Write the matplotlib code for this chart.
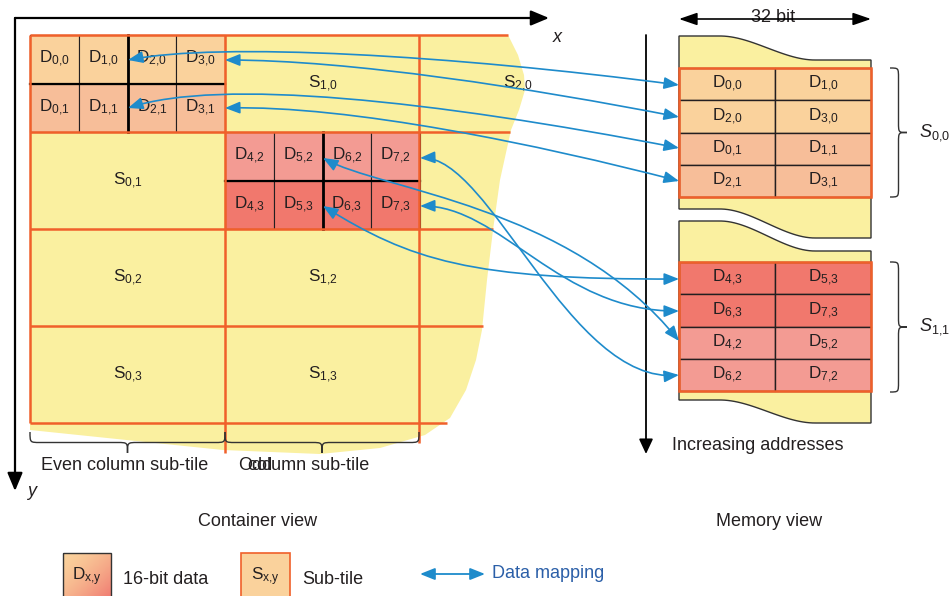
import numpy as np
import matplotlib.pyplot as plt
from matplotlib.patches import Rectangle, Polygon, FancyArrowPatch, PathPatch
from matplotlib.path import Path

plt.rcParams["font.family"] = ["Liberation Sans", "DejaVu Sans"]
plt.rcParams["mathtext.fontset"] = "custom"
plt.rcParams["mathtext.rm"] = "Liberation Sans"
plt.rcParams["mathtext.it"] = "Liberation Sans:italic"
plt.rcParams["mathtext.default"] = "rm"

# ---- labels / content ----
tile_s00 = [["0,0", "1,0", "2,0", "3,0"], ["0,1", "1,1", "2,1", "3,1"]]
tile_s11 = [["4,2", "5,2", "6,2", "7,2"], ["4,3", "5,3", "6,3", "7,3"]]
other_tiles = [(1, 0), (2, 0), (0, 1), (0, 2), (1, 2), (0, 3), (1, 3)]
mem_s00 = [["0,0", "1,0"], ["2,0", "3,0"], ["0,1", "1,1"], ["2,1", "3,1"]]
mem_s11 = [["4,3", "5,3"], ["6,3", "7,3"], ["4,2", "5,2"], ["6,2", "7,2"]]

# colours
yellow = "#FAF0A0"
orange_lt = "#FAD29C"
salmon = "#F7BE99"
pink = "#F39B93"
red = "#F1786D"
grid_c = "#F0602A"
blue = "#1E8BCB"
ink = "#231F20"

# ---- layout (pixel space of the 950x596 picture) ----
col_x = [30, 225, 419]
row_y = [35, 132, 229, 326, 423]
row_end = [508, 510, 493, 483, 447]
col_end = [423, 453, 443]

yel_x = [30, 508, 518, 524, 525, 519, 511, 500, 493, 487, 482, 476, 466, 450, 425, 380, 320, 223, 30]
yel_y = [35, 35, 55, 75, 90, 110, 130, 180, 230, 280, 330, 360, 390, 418, 435, 448, 454, 450, 430]

mem_x = [679, 775, 871]
mem_top = [68, 262]
mem_h = 32.3

# bezier curves: container end, ctrl1, ctrl2, memory end
curves = [
    ((128, 60), (220, 42), (450, 55), (679, 85)),
    ((225, 60), (350, 60), (530, 88), (679, 117)),
    ((128, 108), (220, 78), (430, 100), (679, 148)),
    ((225, 108), (350, 105), (540, 145), (679, 181)),
    ((420, 158), (490, 155), (570, 385), (679, 375)),
    ((420, 206), (500, 205), (560, 312), (679, 311)),
    ((323, 158), (380, 190), (570, 205), (679, 341)),
    ((323, 206), (410, 260), (470, 280), (679, 279)),
]

fig = plt.figure(figsize=(9.5, 5.96), dpi=100)
ax = fig.add_axes([0, 0, 1, 1])
ax.set_xlim(0, 950)
ax.set_ylim(596, 0)
ax.axis("off")

fs = 12.3
fs_big = 13


def sub(base, s):
    return f"{base}$_{{{s.replace(',', '{,}')}}}$"


def lab(x, y, s, **kw):
    kw.setdefault("fontsize", fs)
    kw.setdefault("color", ink)
    kw.setdefault("ha", "center")
    kw.setdefault("va", "center")
    return ax.text(x, y, s, zorder=6, **kw)


def arrow(p0, p1, hl=9, hw=3.6, style="-|>", color="black", lw=1.5):
    a = FancyArrowPatch(p0, p1, arrowstyle=f"{style},head_length={hl},head_width={hw}",
                        color=color, lw=lw, shrinkA=0, shrinkB=0, mutation_scale=1, zorder=7)
    ax.add_patch(a)


def brace(p0, p1, depth, horizontal=True, r=10):
    # curly brace from p0 to p1, tip pushed by depth
    if horizontal:
        (x0, y0), (x1, _) = p0, p1
        xm, h = (x0 + x1) / 2, depth / 2
        v = [(x0, y0), (x0, y0 + h), (x0, y0 + h), (x0 + r, y0 + h), (xm - r, y0 + h),
             (xm, y0 + h), (xm, y0 + h), (xm, y0 + depth),
             (xm, y0 + h), (xm, y0 + h), (xm + r, y0 + h), (x1 - r, y0 + h),
             (x1, y0 + h), (x1, y0 + h), (x1, y0)]
    else:
        (x0, y0), (_, y1) = p0, p1
        ym, h = (y0 + y1) / 2, depth / 2
        v = [(x0, y0), (x0 + h, y0), (x0 + h, y0), (x0 + h, y0 + r), (x0 + h, ym - r),
             (x0 + h, ym), (x0 + h, ym), (x0 + depth, ym),
             (x0 + h, ym), (x0 + h, ym), (x0 + h, ym + r), (x0 + h, y1 - r),
             (x0 + h, y1), (x0 + h, y1), (x0, y1)]
    c = [Path.MOVETO, Path.CURVE4, Path.CURVE4, Path.CURVE4, Path.LINETO,
         Path.CURVE4, Path.CURVE4, Path.CURVE4,
         Path.CURVE4, Path.CURVE4, Path.CURVE4, Path.LINETO,
         Path.CURVE4, Path.CURVE4, Path.CURVE4]
    ax.add_patch(PathPatch(Path(v, c), fc="none", ec="#333333", lw=1, zorder=5))


# ---- container view ----
yel = Polygon(np.column_stack([yel_x, yel_y]), closed=True, fc=yellow, ec="none", zorder=1)
ax.add_patch(yel)

tw = col_x[1] - col_x[0]
th = row_y[1] - row_y[0]
cw, ch = tw / 4, th / 2


def tile_cells(x0, y0, labels, colors):
    for r, row in enumerate(labels):
        for c, s in enumerate(row):
            ax.add_patch(Rectangle((x0 + c * cw, y0 + r * ch), cw, ch, fc=colors[r],
                                   ec=ink, lw=0.8, zorder=2))
            lab(x0 + (c + 0.5) * cw, y0 + (r + 0.5) * ch, sub("D", s))
    ax.plot([x0 + 2 * cw] * 2, [y0, y0 + th], color="black", lw=2, zorder=3)
    ax.plot([x0, x0 + tw], [y0 + ch] * 2, color="black", lw=1.6, zorder=3)


tile_cells(col_x[0], row_y[0], tile_s00, [orange_lt, salmon])
tile_cells(col_x[1], row_y[1], tile_s11, [pink, red])

for y, xe in zip(row_y, row_end):
    ax.plot([col_x[0], xe], [y, y], color=grid_c, lw=1.8, zorder=4, solid_capstyle="butt")
for x, ye in zip(col_x, col_end):
    ax.plot([x, x], [row_y[0], ye], color=grid_c, lw=1.8, zorder=4, solid_capstyle="butt")

for i, j in other_tiles:
    t = lab(col_x[0] + (i + 0.5) * tw, row_y[0] + (j + 0.5) * th, sub("S", f"{i},{j}"))
    t.set_clip_path(yel)

brace((30, 432), (225, 432), 21)
brace((225, 432), (419, 432), 21)
lab(41, 466, "Even column sub-tile", ha="left", fontsize=fs_big)
lab(238, 466, "Odd", ha="left", fontsize=fs_big)
lab(248, 466, "column sub-tile", ha="left", fontsize=fs_big)

arrow((15, 18), (549, 18), hl=11, hw=4.6, lw=1.6)
arrow((15, 18), (15, 491), hl=11, hw=4.6, lw=1.6)
lab(557, 38, "x", style="italic", fontsize=fs_big)
lab(32, 491, "y", style="italic", fontsize=fs_big)
lab(258, 521, "Container view", fontsize=fs_big)

# ---- memory view ----
def wave(y0, dy):
    xs = np.linspace(mem_x[0], mem_x[2], 60)
    s = np.clip((xs - 720) / 95, 0, 1)
    return xs, y0 + dy * s * s * (3 - 2 * s)


for (t0, d0), (b0, d1) in [((36, 24), (209, 29)), ((221, 30), (400, 23))]:
    xt, yt = wave(t0, d0)
    xb, yb = wave(b0, d1)
    pts = np.column_stack([np.r_[xt, xb[::-1]], np.r_[yt, yb[::-1]]])
    ax.add_patch(Polygon(pts, closed=True, fc=yellow, ec="#333333", lw=1, zorder=1))

mw = mem_x[1] - mem_x[0]
for y0, rows, colors in [(mem_top[0], mem_s00, [orange_lt, orange_lt, salmon, salmon]),
                         (mem_top[1], mem_s11, [red, red, pink, pink])]:
    for r, row in enumerate(rows):
        for c, s in enumerate(row):
            ax.add_patch(Rectangle((mem_x[c], y0 + r * mem_h), mw, mem_h, fc=colors[r],
                                   ec=ink, lw=1, zorder=2))
            lab(mem_x[c] + mw / 2, y0 + (r + 0.5) * mem_h, sub("D", s))
    ax.add_patch(Rectangle((mem_x[0], y0), 2 * mw, 4 * mem_h, fc="none", ec=grid_c,
                           lw=1.8, zorder=3))

brace((890, 68), (890, 197), 17, horizontal=False)
brace((890, 262), (890, 392), 17, horizontal=False)
lab(919, 133, r"$\mathit{S_{0{,}0}}$", ha="left", fontsize=fs_big)
lab(919, 327, r"$\mathit{S_{1{,}1}}$", ha="left", fontsize=fs_big)

arrow((646, 35), (646, 454), hl=9, hw=4.2, lw=1.3)
arrow((679, 19), (871, 19), hl=11, hw=3.8, style="<|-|>", lw=1.2)
lab(773, 18, "32 bit", fontsize=fs_big, bbox=dict(fc="white", ec="none", pad=1))
lab(672, 446, "Increasing addresses", ha="left", fontsize=fs_big)
lab(769, 521, "Memory view", fontsize=fs_big)

# ---- data mapping arrows ----
for p0, c1, c2, p3 in curves:
    path = Path([p0, c1, c2, p3], [Path.MOVETO, Path.CURVE4, Path.CURVE4, Path.CURVE4])
    ax.add_patch(FancyArrowPatch(path=path, arrowstyle="<|-|>,head_length=9,head_width=3.6",
                                 color=blue, lw=1.2, mutation_scale=1, zorder=7))

# ---- legend ----
gx = np.linspace(0, 1, 40)
g = (gx[None, :] + gx[:, None]) / 2
c0 = np.array([0xFA, 0xD2, 0x9C]) / 255
c1 = np.array([0xF0, 0x78, 0x70]) / 255
img = c0 + (c1 - c0) * g[..., None] ** 1.5
ax.imshow(img, extent=(63, 111, 600, 553), origin="upper", aspect="auto", zorder=2)
ax.add_patch(Rectangle((63, 553), 48, 47, fc="none", ec="#333333", lw=1, zorder=3))
lab(87, 577, sub("D", "x,y"))
lab(123, 579, "16-bit data", ha="left", fontsize=fs_big)
ax.add_patch(Rectangle((241, 553), 49, 47, fc=orange_lt, ec=grid_c, lw=1.2, zorder=2))
lab(265, 577, sub("S", "x,y"))
lab(302, 579, "Sub-tile", ha="left", fontsize=fs_big)
arrow((420, 574), (485, 574), hl=9, hw=3.6, style="<|-|>", color=blue, lw=1.3)
lab(492, 574, "Data mapping", ha="left", fontsize=fs_big, color="#2B5FA8")

ax.set_xlim(0, 950)
ax.set_ylim(596, 0)
fig.savefig("out.png", dpi=100)
